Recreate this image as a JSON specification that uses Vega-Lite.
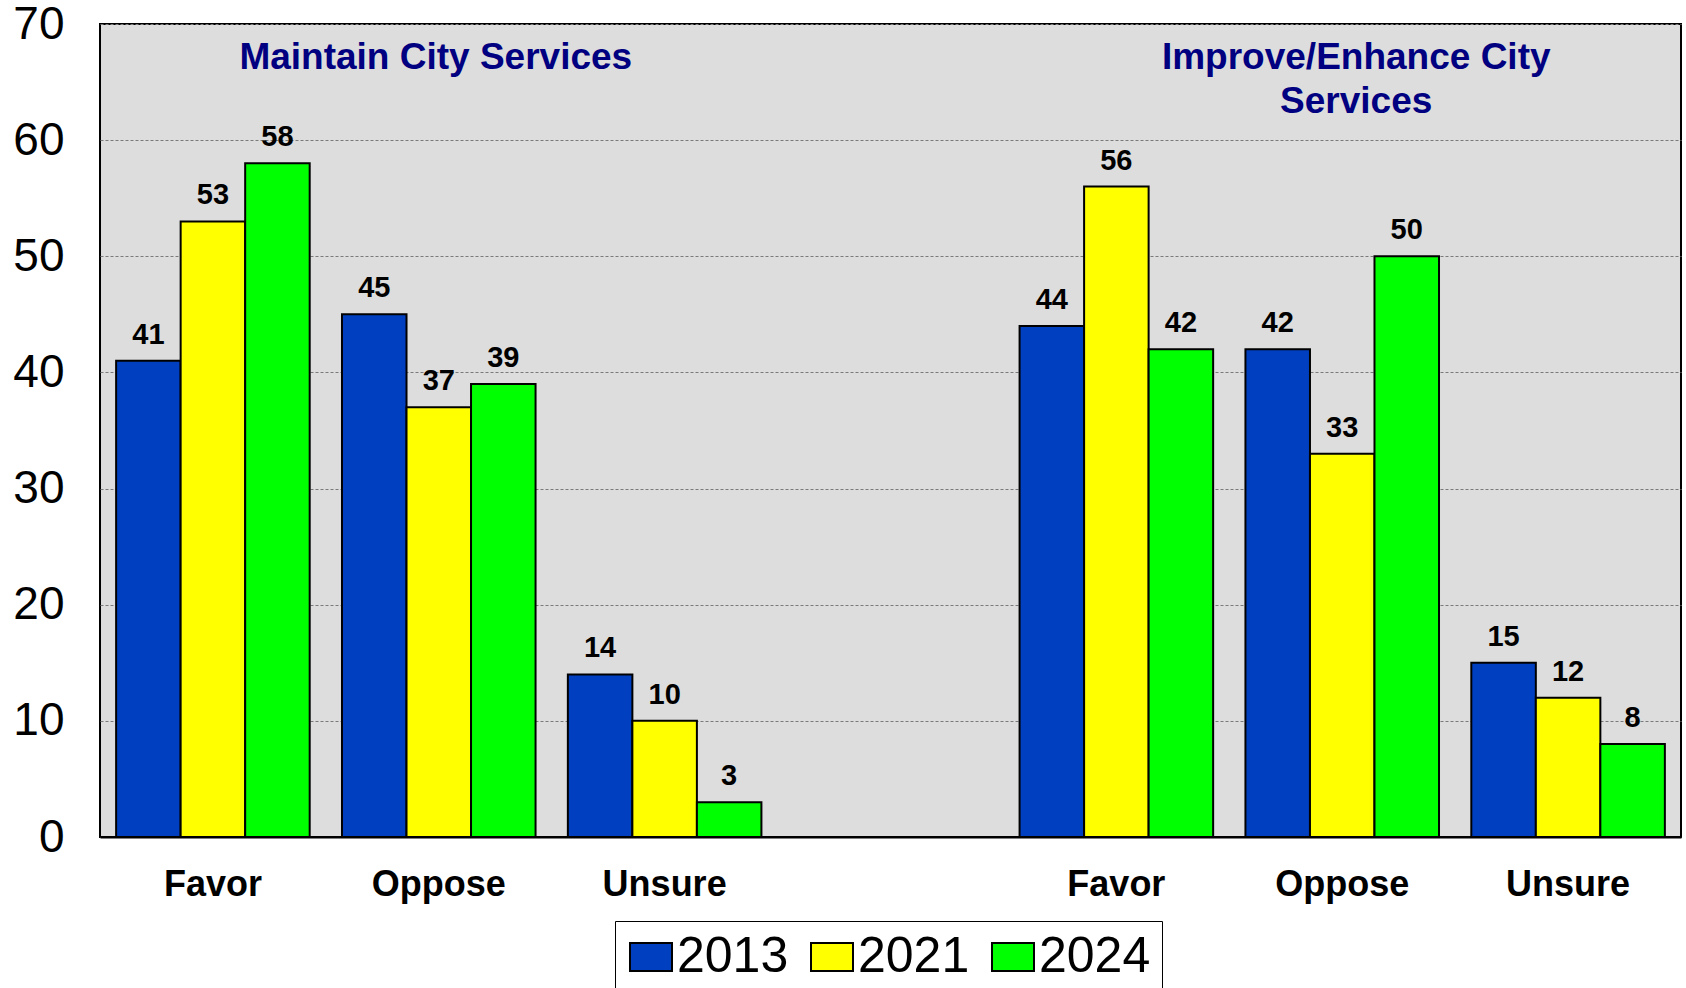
{
  "$schema": "https://vega.github.io/schema/vega-lite/v6.json",
  "width": 1581,
  "height": 813,
  "autosize": {"type": "none"},
  "padding": {"left": 100, "top": 24, "right": 5, "bottom": 151},
  "background": "white",
  "config": {
    "view": {"fill": "#DDDDDD", "stroke": "black", "strokeWidth": 2},
    "font": "Liberation Sans"
  },
  "datasets": {
    "bars": [
      {"cat": "M|Favor", "year": "2013", "value": 41},
      {"cat": "M|Favor", "year": "2021", "value": 53},
      {"cat": "M|Favor", "year": "2024", "value": 58},
      {"cat": "M|Oppose", "year": "2013", "value": 45},
      {"cat": "M|Oppose", "year": "2021", "value": 37},
      {"cat": "M|Oppose", "year": "2024", "value": 39},
      {"cat": "M|Unsure", "year": "2013", "value": 14},
      {"cat": "M|Unsure", "year": "2021", "value": 10},
      {"cat": "M|Unsure", "year": "2024", "value": 3},
      {"cat": "I|Favor", "year": "2013", "value": 44},
      {"cat": "I|Favor", "year": "2021", "value": 56},
      {"cat": "I|Favor", "year": "2024", "value": 42},
      {"cat": "I|Oppose", "year": "2013", "value": 42},
      {"cat": "I|Oppose", "year": "2021", "value": 33},
      {"cat": "I|Oppose", "year": "2024", "value": 50},
      {"cat": "I|Unsure", "year": "2013", "value": 15},
      {"cat": "I|Unsure", "year": "2021", "value": 12},
      {"cat": "I|Unsure", "year": "2024", "value": 8}
    ],
    "titleM": [
      {"cat": "M|Oppose", "value": 67.1, "text": "Maintain City Services"}
    ],
    "titleI": [
      {"cat": "I|Oppose", "value": 67.1, "text": "Improve/Enhance City"},
      {"cat": "I|Oppose", "value": 63.3, "text": "Services"}
    ]
  },
  "layer": [
    {
      "data": {"name": "bars"},
      "mark": {"type": "bar", "stroke": "black", "strokeWidth": 2},
      "encoding": {
        "x": {
          "field": "cat", "type": "nominal", "sort": null,
          "scale": {
            "domain": ["M|Favor", "M|Oppose", "M|Unsure", "gap", "I|Favor", "I|Oppose", "I|Unsure"],
            "paddingInner": 0.143, "paddingOuter": 0.0714
          },
          "axis": {
            "title": null, "labelAngle": 0, "ticks": false,
            "labelExpr": "datum.label == 'gap' ? '' : split(datum.label, '|')[1]",
            "labelFont": "Liberation Sans", "labelFontWeight": "bold", "labelFontSize": 36,
            "labelColor": "black", "labelPadding": 30,
            "domainColor": "black", "domainWidth": 2
          }
        },
        "xOffset": {
          "field": "year", "type": "nominal",
          "scale": {"paddingInner": 0, "paddingOuter": 0}
        },
        "y": {
          "field": "value", "type": "quantitative",
          "scale": {"domain": [0, 70], "nice": false},
          "axis": {
            "title": null, "values": [0, 10, 20, 30, 40, 50, 60, 70], "ticks": false,
            "labelFont": "Liberation Sans", "labelFontSize": 46, "labelColor": "black",
            "labelPadding": 36, "domain": false,
            "grid": true, "gridColor": "#7a7a7a", "gridDash": [3, 2], "gridWidth": 1
          }
        },
        "color": {
          "field": "year", "type": "nominal",
          "scale": {"domain": ["2013", "2021", "2024"], "range": ["#0040C0", "#FFFF00", "#00FF00"]},
          "legend": {
            "title": null, "orient": "none", "legendX": 515, "legendY": 897,
            "direction": "horizontal", "padding": 11,
            "strokeColor": "black", "fillColor": "white",
            "labelFont": "Liberation Sans", "labelFontSize": 50, "labelColor": "black",
            "labelOffset": 1, "columnPadding": 18,
            "symbolType": "M-1.5,-1H1.5V1H-1.5Z", "symbolSize": 784,
            "symbolStrokeColor": "black", "symbolStrokeWidth": 2, "symbolOpacity": 1
          }
        }
      }
    },
    {
      "data": {"name": "bars"},
      "mark": {"type": "text", "font": "Liberation Sans", "fontWeight": "bold", "fontSize": 29, "color": "black", "baseline": "alphabetic", "dy": -17},
      "encoding": {
        "x": {"field": "cat", "type": "nominal", "sort": null},
        "xOffset": {"field": "year", "type": "nominal"},
        "y": {"field": "value", "type": "quantitative"},
        "text": {"field": "value", "type": "quantitative"}
      }
    },
    {
      "data": {"name": "titleM"},
      "mark": {"type": "text", "font": "Liberation Sans", "fontWeight": "bold", "fontSize": 37, "color": "#000080", "baseline": "middle", "dx": -3},
      "encoding": {
        "x": {"field": "cat", "type": "nominal", "sort": null},
        "y": {"field": "value", "type": "quantitative"},
        "text": {"field": "text", "type": "nominal"}
      }
    },
    {
      "data": {"name": "titleI"},
      "mark": {"type": "text", "font": "Liberation Sans", "fontWeight": "bold", "fontSize": 37, "color": "#000080", "baseline": "middle", "dx": 14},
      "encoding": {
        "x": {"field": "cat", "type": "nominal", "sort": null},
        "y": {"field": "value", "type": "quantitative"},
        "text": {"field": "text", "type": "nominal"}
      }
    }
  ]
}
